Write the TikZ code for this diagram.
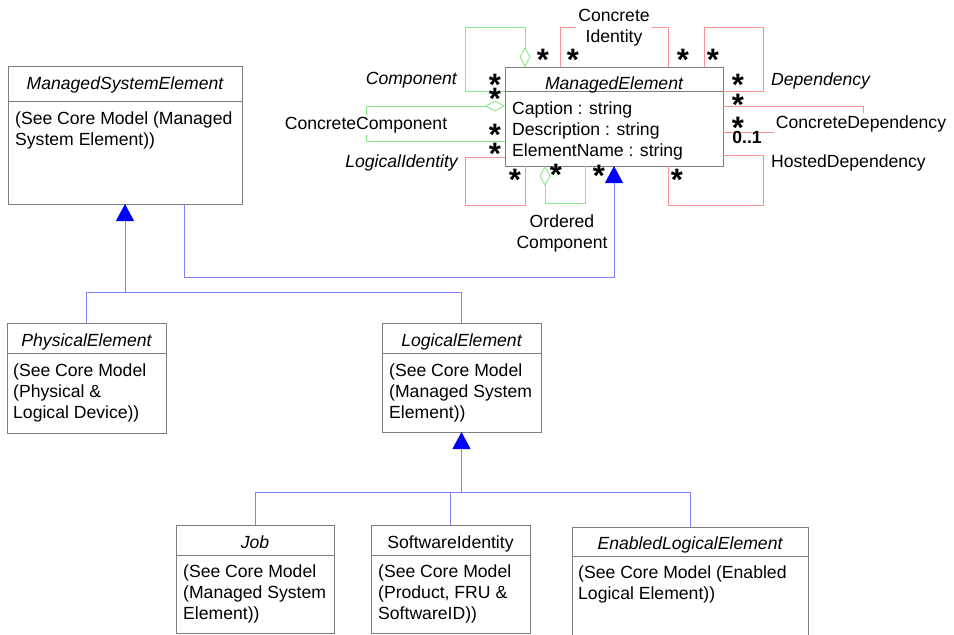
\documentclass[tikz,border=0pt]{standalone}
\usepackage{fontspec}
\setmainfont{Liberation Sans}
\usetikzlibrary{arrows.meta,calc}

\definecolor{boxgray}{RGB}{125,125,125}
\definecolor{compgreen}{RGB}{135,232,135}
\definecolor{depred}{RGB}{252,145,145}
\definecolor{genblue}{RGB}{128,128,255}
\definecolor{tipblue}{RGB}{0,0,255}

% strut fixing the first baseline of a class body
\newcommand\fl{\rule{0pt}{14pt}}

\tikzset{
  classbox/.style={draw=boxgray, line width=0.9pt, fill=white, inner sep=0pt, outer sep=0pt},
  hdr/.style={draw=boxgray, line width=0.9pt},
  ttl/.style={anchor=base, inner sep=0pt},
  body/.style={anchor=north west, inner sep=0pt, align=left},
  comp/.style={draw=compgreen, line width=0.9pt, -{Diamond[open, length=20pt, width=11pt]}},
  dep/.style={draw=depred, line width=0.9pt},
  gen/.style={draw=genblue, line width=0.9pt, -{Triangle[length=17pt, width=18pt, color=tipblue, fill=tipblue]}},
  genl/.style={draw=genblue, line width=0.9pt},
  lbl/.style={inner sep=0pt, anchor=base},
  cutlbl/.style={fill=white, inner sep=2pt},
  mult/.style={inner sep=0pt, anchor=base, font=\fontsize{31pt}{31pt}\selectfont\bfseries},
}

\begin{document}
\begin{tikzpicture}[x=1pt, y=-1pt, font=\fontsize{17.6pt}{21pt}\selectfont]
\useasboundingbox (0,0) rectangle (954,635);

% ---------- classes ----------
\node[classbox, minimum width=234pt, minimum height=138pt] (mse) at (125,135) {};
\draw[hdr] (8,101) -- (242,101);
\node[ttl] (mse-t) at (125,89) {\itshape ManagedSystemElement};
\node[body] (mse-b) at (15,110) {\fl(See Core Model (Managed\\System Element))};

\node[classbox, minimum width=218pt, minimum height=99pt] (me) at (614,116.5) {};
\draw[hdr] (505,91) -- (723,91);
\node[ttl] (me-t) at (614,89) {\itshape ManagedElement};
\node[body] (me-b) at (512,100) {\fl Caption : string\\Description : string\\ElementName : string};

\node[classbox, minimum width=159pt, minimum height=110pt] (pe) at (86.5,378) {};
\draw[hdr] (7,353) -- (166,353);
\node[ttl] (pe-t) at (86.5,346) {\itshape PhysicalElement};
\node[body] (pe-b) at (13,362) {\fl(See Core Model\\(Physical \&\\Logical Device))};

\node[classbox, minimum width=159pt, minimum height=109pt] (le) at (461.5,377.5) {};
\draw[hdr] (382,353) -- (541,353);
\node[ttl] (le-t) at (461.5,346) {\itshape LogicalElement};
\node[body] (le-b) at (389,362) {\fl(See Core Model\\(Managed System\\Element))};

\node[classbox, minimum width=158pt, minimum height=108pt] (job) at (255,579) {};
\draw[hdr] (176,555) -- (334,555);
\node[ttl] (job-t) at (255,548) {\itshape Job};
\node[body] (job-b) at (183,563) {\fl(See Core Model\\(Managed System\\Element))};

\node[classbox, minimum width=159pt, minimum height=108pt] (si) at (450.5,579) {};
\draw[hdr] (371,555) -- (530,555);
\node[ttl] (si-t) at (450.5,548) {SoftwareIdentity};
\node[body] (si-b) at (378,563) {\fl(See Core Model\\(Product, FRU \&\\SoftwareID))};

\node[classbox, minimum width=236pt, minimum height=118pt] (ele) at (690,586) {};
\draw[hdr] (572,556) -- (808,556);
\node[ttl] (ele-t) at (690,549) {\itshape EnabledLogicalElement};
\node[body] (ele-b) at (578,564) {\fl(See Core Model (Enabled\\Logical Element))};

% ---------- inheritance ----------
\draw[gen] ([xshift=59pt]mse.south) |- ([yshift=-111pt]me.south) -- (me.south);
\draw[gen] (pe.north) |- ([yshift=-88pt]mse.south) -- (mse.south);
\draw[genl] (le.north) |- ([yshift=-88pt]mse.south);
\draw[gen] (job.north) |- ([yshift=-60pt]le.south) -- (le.south);
\draw[genl] (si.north) |- ([yshift=-60pt]le.south);
\draw[genl] (ele.north) |- ([yshift=-60pt]le.south);

% ---------- associations on ManagedElement ----------
% Component
\draw[comp] ($(me.north west)+(0,24)$) -| (465,27) -| ($(me.north west)+(20,0)$);
\node[lbl, anchor=base east] (l-comp) at (457,84) {\itshape Component};
% ConcreteIdentity
\draw[dep] ($(me.north west)+(55,0)$) |- (614,27) -| ($(me.north west)+(163,0)$);
\node[cutlbl, align=center] (l-cid) at (614,28) {Concrete\\Identity};
% Dependency
\draw[dep] ($(me.north west)+(199,0)$) |- (763,27) |- ($(me.north east)+(0,24)$);
\node[lbl, anchor=base west] (l-dep) at (771,85) {\itshape Dependency};
% ConcreteDependency
\draw[dep] ($(me.north east)+(0,39)$) -| (863,132) -- ($(me.north east)+(0,65)$);
\node[cutlbl, anchor=base] (l-cdep) at (861,128) {ConcreteDependency};
% HostedDependency
\draw[dep] ($(me.north east)+(0,88)$) -| (763,205) -| ($(me.south west)+(163,0)$);
\node[lbl, anchor=base west] (l-hdep) at (771,167) {HostedDependency};
% LogicalIdentity
\draw[dep] ($(me.north west)+(0,90)$) -| (465,205) -| ($(me.south west)+(20,0)$);
\node[lbl, anchor=base east] (l-lid) at (458,167) {\itshape LogicalIdentity};
% ConcreteComponent
\draw[comp] ($(me.north west)+(0,74)$) -| (366,106) -- ($(me.north west)+(0,39)$);
\node[cutlbl, anchor=base] (l-ccomp) at (366,129) {ConcreteComponent};
% OrderedComponent
\draw[comp] ($(me.south west)+(80,0)$) |- (545,203) -- ($(me.south west)+(40,0)$);
\node[inner sep=0pt, align=center] (l-ocomp) at (562,233) {Ordered\\Component};

% ---------- multiplicities ----------
\node[mult] (s1) at (543,70) {*};
\node[mult] (s2) at (573,70) {*};
\node[mult] (s3) at (495,95) {*};
\node[mult] (s4) at (495,109) {*};
\node[mult] (s5) at (495,145) {*};
\node[mult] (s6) at (495,164) {*};
\node[mult] (s7) at (515,190) {*};
\node[mult] (s8) at (556,185) {*};
\node[mult] (s9) at (599,186) {*};
\node[mult] (s10) at (683,70) {*};
\node[mult] (s11) at (713,70) {*};
\node[mult] (s12) at (738,95) {*};
\node[mult] (s13) at (738,115) {*};
\node[mult] (s14) at (738,138) {*};
\node[mult] (s15) at (677,190) {*};
\node[lbl] (m01) at (747,143) {\bfseries 0..1};

\end{tikzpicture}
\end{document}
